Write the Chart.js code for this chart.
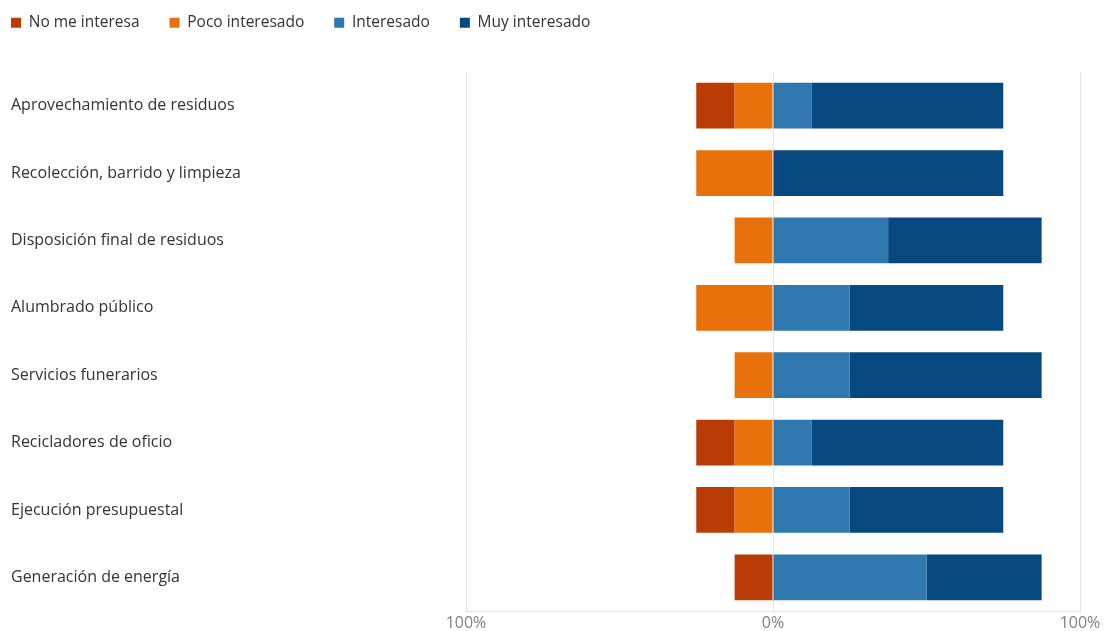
<!DOCTYPE html>
<html>
<head>
<meta charset="utf-8">
<script src="https://cdn.jsdelivr.net/npm/chart.js@4/dist/chart.umd.min.js"></script>
<style>
html,body{margin:0;padding:0;background:#fff;}
#wrap{width:1104px;height:631px;}
</style>
</head>
<body>
<div id="wrap"><canvas id="c" width="1104" height="631"></canvas></div>
<script>
const categories = [
  "Aprovechamiento de residuos",
  "Recolección, barrido y limpieza",
  "Disposición final de residuos",
  "Alumbrado público",
  "Servicios funerarios",
  "Recicladores de oficio",
  "Ejecución presupuestal",
  "Generación de energía"
];
const seriesNames = ["No me interesa", "Poco interesado", "Interesado", "Muy interesado"];
const noMeInteresa   = [-12.5, 0, 0, 0, 0, -12.5, -12.5, -12.5];
const pocoInteresado = [-12.5, -25, -12.5, -25, -12.5, -12.5, -12.5, 0];
const interesado     = [12.5, 0, 37.5, 25, 25, 12.5, 25, 50];
const muyInteresado  = [62.5, 75, 50, 50, 62.5, 62.5, 50, 37.5];
const xTicks = [-100, 0, 100];
const colors = ["#B93B06", "#E9710B", "#2E77AF", "#06487F"];

const FONT = "'Open Sans', 'Noto Sans', sans-serif";

const legendFix = {
  id: 'legendFix',
  beforeInit(chart) {
    const lg = chart.legend;
    if (lg) {
      const orig = lg.fit;
      lg.fit = function () { orig.call(this); this.height = 72; };
    }
  },
  afterLayout(chart) {
    const lg = chart.legend;
    if (lg) {
      lg.left = 11 - 30;
      lg.top = -15;
    }
  }
};

new Chart(document.getElementById('c'), {
  type: 'bar',
  data: {
    labels: categories,
    datasets: [
      { label: seriesNames[1], data: pocoInteresado, backgroundColor: colors[1] },
      { label: seriesNames[0], data: noMeInteresa, backgroundColor: colors[0] },
      { label: seriesNames[2], data: interesado, backgroundColor: colors[2] },
      { label: seriesNames[3], data: muyInteresado, backgroundColor: colors[3] }
    ]
  },
  options: {
    indexAxis: 'y',
    responsive: false,
    animation: false,
    maintainAspectRatio: false,
    layout: { padding: { left: 11, right: 24, top: 0, bottom: 0 } },
    datasets: { bar: { barPercentage: 0.68, categoryPercentage: 1.0, borderWidth: 0 } },
    scales: {
      x: {
        stacked: true,
        min: -100, max: 100,
        afterBuildTicks(axis) { axis.ticks = xTicks.map(v => ({ value: v })); },
        afterFit(axis) { axis.height = 20; },
        ticks: {
          padding: 3,
          color: '#808080',
          font: { family: FONT, size: 16 },
          callback: v => Math.abs(v) + '%'
        },
        grid: { color: '#e3e3e3', lineWidth: 1, drawTicks: false },
        border: { display: true, color: '#e3e3e3' }
      },
      y: {
        stacked: true,
        afterFit(axis) { axis.width = 455; },
        ticks: {
          crossAlign: 'far',
          color: '#333333',
          font: { family: FONT, size: 16 }
        },
        grid: { display: false, drawTicks: false },
        border: { display: false }
      }
    },
    plugins: {
      legend: {
        position: 'top',
        align: 'start',
        labels: {
          boxWidth: 10,
          boxHeight: 10,
          padding: 30,
          color: '#333333',
          font: { family: FONT, size: 15.5 },
          sort: (a, b) => [1,0,2,3][a.datasetIndex] - [1,0,2,3][b.datasetIndex]
        }
      },
      tooltip: { enabled: false }
    }
  },
  plugins: [legendFix]
});
</script>
</body>
</html>
